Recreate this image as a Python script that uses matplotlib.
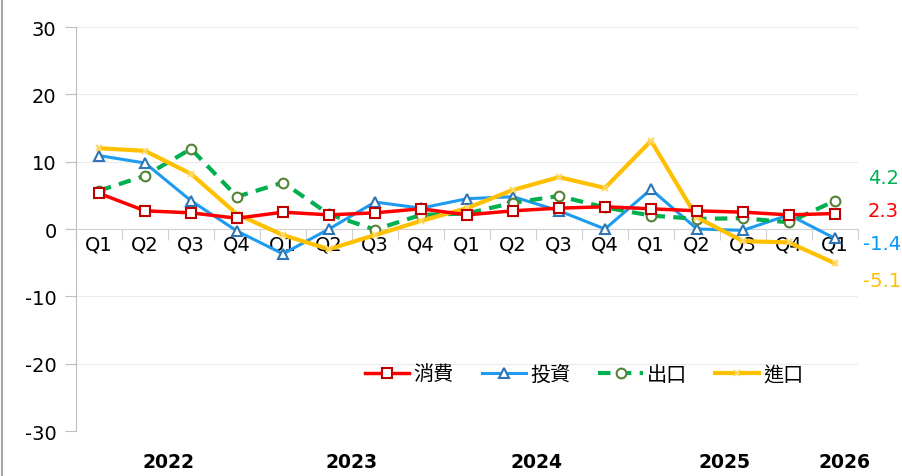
import matplotlib.pyplot as plt
import matplotlib.transforms as mtransforms
from matplotlib.lines import Line2D

plt.rcParams['font.family'] = ['DejaVu Sans', 'Noto Sans CJK TC']
plt.rcParams['axes.unicode_minus'] = False

quarters = ['Q1', 'Q2', 'Q3', 'Q4'] * 4 + ['Q1']
years = ['2022', '2023', '2024', '2025', '2026']
year_pos = [1.5, 5.5, 9.5, 13.6, 16.2]

consumption = [5.3, 2.7, 2.4, 1.6, 2.5, 2.1, 2.4, 3.0, 2.1, 2.7, 3.1, 3.3, 3.0, 2.7, 2.5, 2.1, 2.3]
investment = [10.9, 9.8, 4.2, -0.3, -3.7, 0.0, 4.0, 3.1, 4.5, 4.8, 2.7, 0.0, 5.9, 0.0, -0.2, 2.1, -1.4]
exports = [5.7, 7.9, 11.9, 4.8, 6.9, 2.2, -0.1, 2.1, 2.3, 3.9, 4.9, 3.2, 2.0, 1.5, 1.6, 1.0, 4.2]
imports = [12.0, 11.6, 8.2, 2.2, -0.9, -3.0, -0.9, 1.2, 3.1, 5.8, 7.7, 6.1, 13.1, 1.7, -1.8, -2.0, -5.1]

fig = plt.figure(figsize=(9.02, 4.77), dpi=100)
ax = fig.add_axes([76 / 902, 1 - 432 / 477, (858 - 76) / 902, (432 - 28) / 477])

x = list(range(len(quarters)))

ax.plot(x, consumption, color='#FF0000', lw=2.5, marker='s', ms=7,
        mfc='white', mec='#C00000', mew=1.5, label='消費', zorder=4)
ax.plot(x, investment, color='#1E9BF0', lw=2.2, marker='^', ms=7,
        mfc='white', mec='#2E75B6', mew=1.5, label='投資', zorder=3)
ax.plot(x, exports, color='#00B050', lw=3, ls=(0, (3, 2)), marker='o', ms=7,
        mfc='white', mec='#548235', mew=1.5, label='出口', zorder=3)
ax.plot(x, imports, color='#FFC000', lw=3, marker='x', ms=5,
        mec='#FFD966', mew=1.5, label='進口', zorder=3)

ax.set_xlim(-0.5, len(quarters) - 0.5)
ax.set_ylim(-30, 30)
ax.set_yticks([-30, -20, -10, 0, 10, 20, 30])
ax.yaxis.grid(True, color='#EBEBEB', lw=0.8)
ax.set_axisbelow(True)

ax.spines['top'].set_visible(False)
ax.spines['right'].set_visible(False)
ax.spines['left'].set_color('#BFBFBF')
ax.spines['bottom'].set_position(('data', 0))
ax.spines['bottom'].set_color('#D0D0D0')
ax.tick_params(axis='y', length=8, color='#BFBFBF', labelsize=14, pad=6)

ax.set_xticks([i + 0.5 for i in range(-1, len(quarters))])
ax.set_xticklabels([])
ax.tick_params(axis='x', length=8, color='#D0D0D0', direction='out')
for i, q in enumerate(quarters):
    ax.text(i, -0.8, q, ha='center', va='top', fontsize=14, zorder=2)

trans = mtransforms.blended_transform_factory(ax.transData, fig.transFigure)
for yr, p in zip(years, year_pos):
    ax.text(p, 1 - 463 / 477, yr, ha='center', va='center', fontsize=13.5,
            fontweight='bold', transform=trans)

end_labels = [('4.2', 16.72, 7.7, '#00B050'),
              ('2.3', 16.72, 2.8, '#FF0000'),
              ('-1.4', 16.6, -2.2, '#0099FF'),
              ('-5.1', 16.6, -7.7, '#FFC000')]
for txt, xpos, ypos, c in end_labels:
    ax.text(xpos, ypos, txt, color=c, fontsize=14, fontweight='medium',
            ha='left', va='center', clip_on=False)

ax.legend(loc='center', bbox_to_anchor=(0.65, 0.141), ncol=4, frameon=False,
          fontsize=14.5, handlelength=2.2, columnspacing=1.4, handletextpad=0.2)

fig.add_artist(Line2D([2 / 902, 2 / 902], [0, 1], color='#A6A6A6', lw=1.5))

plt.savefig('out.png', dpi=100)
